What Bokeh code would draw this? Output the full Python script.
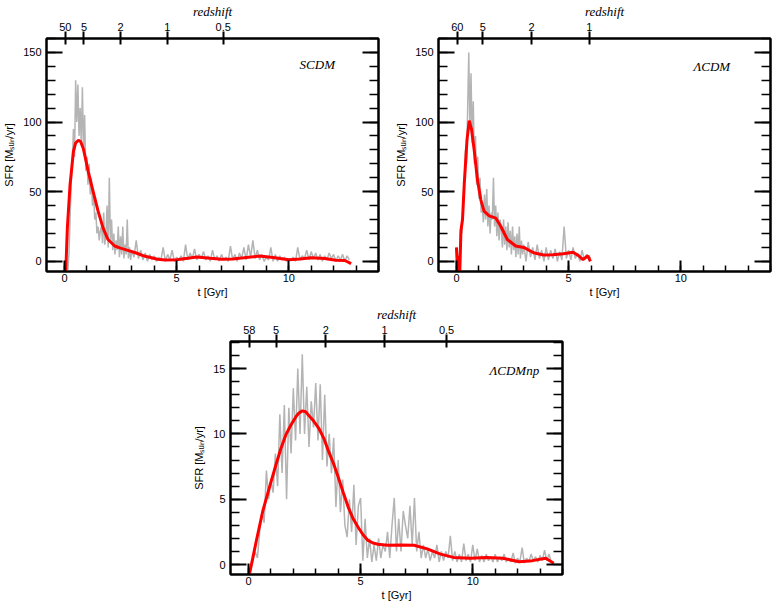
from bokeh.plotting import figure
from bokeh.models import (LinearAxis, FixedTicker, SingleIntervalTicker, Range1d, Spacer,
                          CustomLabelingPolicy)
from bokeh.layouts import column, row
from bokeh.embed import file_html
from bokeh.resources import INLINE
from bokeh.core.properties import value

# ---------------- data ----------------
# SCDM
scdm_gray_t = [0.15, 0.2, 0.25, 0.3, 0.35, 0.4, 0.45, 0.5, 0.55, 0.6, 0.65, 0.7, 0.75, 0.8, 0.85, 0.9, 0.95,
               1.0, 1.05, 1.1, 1.15, 1.2, 1.25, 1.3, 1.35, 1.4, 1.45, 1.5, 1.55, 1.6, 1.65, 1.7, 1.75, 1.8,
               1.85, 1.9, 1.95, 2.0, 2.05, 2.1, 2.15, 2.2, 2.25, 2.3, 2.35, 2.4, 2.45, 2.5, 2.55, 2.6, 2.65,
               2.7, 2.75, 2.8, 2.85, 2.9, 2.95, 3.0,
               3.1, 3.2, 3.3, 3.4, 3.5, 3.6, 3.7, 3.8, 3.9, 4.0, 4.1, 4.2, 4.3, 4.4, 4.5, 4.6, 4.7, 4.8, 4.9,
               5.0, 5.1, 5.2, 5.3, 5.4, 5.5, 5.6, 5.7, 5.8, 5.9, 6.0, 6.1, 6.2, 6.3, 6.4, 6.5, 6.6, 6.7, 6.8,
               6.9, 7.0, 7.1, 7.2, 7.3, 7.4, 7.5, 7.6, 7.7, 7.8, 7.9, 8.0, 8.1, 8.2, 8.3, 8.4, 8.5, 8.6, 8.7,
               8.8, 8.9, 9.0, 9.1, 9.2, 9.3, 9.4, 9.5, 9.6, 9.7, 9.8, 9.9, 10.0, 10.1, 10.2, 10.3, 10.4, 10.5,
               10.6, 10.7, 10.8, 10.9, 11.0, 11.1, 11.2, 11.3, 11.4, 11.5, 11.6, 11.7, 11.8, 11.9, 12.0, 12.1,
               12.2, 12.3, 12.4, 12.5, 12.6, 12.7]
scdm_gray_sfr = [-7, 5, 30, 55, 70, 95, 75, 130, 100, 127, 90, 110, 85, 125, 80, 105, 65,
                 75, 55, 70, 48, 60, 40, 50, 30, 35, 20, 25, 15, 22, 25, 13, 35, 12,
                 20, 40, 10, 60, 15, 30, 8, 20, 5, 15, 8, 25, 3, 18, 5, 25, 2,
                 12, 5, 30, 2, 10, 1, 8,
                 3, 15, 2, 8, 1, 6, 0, 5, 1, 4, 0, 3, 1, 10, 0, 5, 1, 8, 0,
                 3, 1, 4, 0, 12, 1, 6, 2, 9, 1, 5, 2, 7, 1, 4, 0, 8, 1, 4,
                 0, 5, 1, 3, 0, 11, 1, 5, 0, 6, 2, 10, 1, 12, 3, 15, 2, 8, 1,
                 5, 0, 3, 1, 10, 0, 5, 0, 4, 1, 3, 0, 2, 1, 3, 0, 10, 1,
                 4, 2, 8, 1, 7, 2, 6, 1, 5, 0, 4, 1, 6, 2, 5, 0,
                 4, 1, 5, 0, 4, 1]
scdm_fit_t = [0.06, 0.13, 0.2, 0.25, 0.3, 0.4, 0.5, 0.62, 0.72, 0.84, 0.95, 1.06, 1.28, 1.5, 1.72, 1.94,
              2.24, 2.5, 2.83, 3.2, 3.56, 4.15, 4.5, 5.0, 5.5, 5.9, 6.5, 7.0, 7.5, 8.0, 8.7, 9.3, 10.0,
              10.5, 11.0, 11.6, 12.1, 12.5, 12.78]
scdm_fit_sfr = [-7, 24, 42, 55, 63, 79, 85, 87, 86, 81, 73, 64.5, 50, 36, 24, 15.7,
                11, 9.5, 7.9, 6, 3.8, 1.5, 1, 1.2, 2.2, 3.1, 2.2, 1.5, 1.6, 2.5, 3.8, 2.8, 1.2,
                1.6, 2.6, 2, 0.8, 0.6, -1.6]
scdm_z_t = [0.04, 0.87, 2.5, 4.58, 7.08]
scdm_z_lab = ["50", "5", "2", "1", "0.5"]

# LambdaCDM
lcdm_gray_t = [0.0, 0.05, 0.1, 0.15, 0.2, 0.25, 0.3, 0.35, 0.4, 0.45, 0.5, 0.55, 0.6, 0.65, 0.7, 0.75, 0.8,
               0.85, 0.9, 0.95, 1.0, 1.05, 1.1, 1.15, 1.2, 1.25, 1.3, 1.35, 1.4, 1.45, 1.5, 1.55, 1.6, 1.65,
               1.7, 1.75, 1.8, 1.85, 1.9, 1.95, 2.0, 2.05, 2.1, 2.15, 2.2, 2.25, 2.3, 2.35, 2.4, 2.45, 2.5,
               2.55, 2.6, 2.65, 2.7, 2.75, 2.8, 2.85, 2.9, 2.95, 3.0,
               3.1, 3.2, 3.3, 3.4, 3.5, 3.6, 3.7, 3.8, 3.9, 4.0, 4.1, 4.2, 4.3, 4.4, 4.5, 4.6, 4.7, 4.8,
               4.9, 5.0, 5.1, 5.2, 5.3, 5.4, 5.5, 5.6, 5.7, 5.8, 5.9, 6.0]
lcdm_gray_sfr = [0, 5, -5, 10, 25, 20, 45, 55, 80, 70, 110, 150, 95, 135, 85, 115, 70,
                 90, 55, 75, 45, 60, 35, 40, 28, 48, 30, 52, 25, 40, 20, 35, 30, 60,
                 25, 40, 18, 35, 15, 30, 22, 10, 30, 12, 25, 8, 28, 10, 22, 5, 25,
                 8, 18, 3, 20, 5, 25, 2, 15, 5, 12,
                 0, 14, 3, 10, 1, 12, 2, 8, 0, 10, 1, 8, 2, 9, 0, 7, 1, 25,
                 2, 8, 1, 10, 2, 6, 0, 8, 1, 5, 2, 3]
lcdm_fit_t = [0.0, 0.05, 0.1, 0.15, 0.2, 0.27, 0.35, 0.47, 0.57, 0.67, 0.79, 0.94, 1.09, 1.23, 1.46, 1.76,
              1.98, 2.27, 2.64, 3.0, 3.44, 3.88, 4.3, 4.76, 5.2, 5.45, 5.64, 5.86, 5.97]
lcdm_fit_sfr = [10, -7, 4, -7, 22, 30, 56, 87, 101, 95, 80, 58, 44, 36, 32.7, 31,
                25, 15.7, 11, 10, 6.2, 4.5, 4.8, 5.5, 6.5, 4, 1.2, 4, 0]
lcdm_z_t = [0.04, 1.17, 3.35, 5.92]
lcdm_z_lab = ["60", "5", "2", "1"]

# LambdaCDMnp
np_gray_t = [0.1, 0.2, 0.3, 0.4, 0.5, 0.6, 0.7, 0.8, 0.9, 1.0, 1.1, 1.2, 1.3, 1.4, 1.5, 1.6, 1.7, 1.8, 1.9,
             2.0, 2.1, 2.2, 2.3, 2.4, 2.5, 2.6, 2.7, 2.8, 2.9, 3.0, 3.1, 3.2, 3.3, 3.4, 3.5, 3.6, 3.7, 3.8,
             3.9, 4.0, 4.1, 4.2, 4.3, 4.4, 4.5, 4.6, 4.7, 4.8, 4.9, 5.0, 5.1, 5.2, 5.3, 5.4, 5.5, 5.6, 5.7,
             5.8, 5.9, 6.0, 6.1, 6.2, 6.3, 6.4, 6.5, 6.6, 6.7, 6.8, 6.9, 7.0, 7.1, 7.2, 7.3, 7.4, 7.5, 7.6,
             7.7, 7.8, 7.9, 8.0, 8.1, 8.2, 8.3, 8.4, 8.5, 8.6, 8.7, 8.8, 8.9, 9.0, 9.1, 9.2, 9.3, 9.4, 9.5,
             9.6, 9.7, 9.8, 9.9, 10.0, 10.1, 10.2, 10.3, 10.4, 10.5, 10.6, 10.7, 10.8, 10.9, 11.0, 11.1,
             11.2, 11.3, 11.4, 11.5, 11.6, 11.7, 11.8, 11.9, 12.0, 12.1, 12.2, 12.3, 12.4, 12.5, 12.6,
             12.7, 12.8, 12.9, 13.0, 13.1, 13.2, 13.3, 13.4, 13.5, 13.6]
np_gray_sfr = [-0.5, 0.3, 1.0, 0.5, 2.5, 4.0, 3.2, 7.2, 5.0, 6.5, 5.5, 8.5, 6.0, 11.5, 7.0, 12.2, 5.0, 12.0, 8.5,
               13.5, 9.5, 15.0, 10.0, 16.1, 10.0, 13.6, 9.0, 12.5, 10.5, 13.9, 9.5, 13.8, 8.0, 13.0, 7.5, 10.0, 7.0, 9.7,
               4.4, 8.0, 4.0, 6.5, 3.0, 2.1, 5.0, 2.5, 6.1, 1.5, 4.5, 5.1, 0.3, 3.5, 0.5, 2.0, 0.2, 1.5, 0.3,
               2.0, 0.5, 1.5, 1.0, 2.5, 0.5, 3.0, 5.1, 1.0, 3.5, 1.0, 4.1, 3.0, 2.0, 4.5, 1.5, 5.1, 1.0, 2.5,
               0.5, 1.5, 0.5, 1.2, 0.3, 1.0, 0.5, 1.5, 0.2, 1.0, 0.3, 1.0, 0.5, 2.2, 0.3, 1.0, 0.2, 0.8, 0.2,
               1.6, 0.3, 0.8, 0.2, 1.5, 0.3, 1.2, 0.2, 0.7, 0.2, 0.8, 0.3, 0.6, 0.2, 0.8, 0.2,
               0.6, 0.3, 0.8, 0.2, 0.5, 0.2, 0.9, 0.1, 0.5, 0.2, 1.3, 0.1, 0.5, 0.2, 0.8,
               0.3, 0.6, 0.2, 0.7, 0.3, 1.1, 0.3, 0.8, 0.2, 0.1]
np_fit_t = [0.05, 0.35, 0.64, 0.95, 1.23, 1.45, 1.67, 1.9, 2.11, 2.25, 2.4, 2.55, 2.69, 2.9, 3.13, 3.35,
            3.57, 3.8, 4.01, 4.23, 4.45, 4.67, 4.89, 5.1, 5.33, 5.55, 5.77, 6.21, 6.8, 7.38, 7.97, 8.56,
            9.14, 9.88, 10.61, 11.34, 12.07, 12.66, 13.25, 13.61]
np_fit_sfr = [-0.68, 1.8, 4.1, 6.0, 7.66, 8.9, 9.94, 10.7, 11.3, 11.6, 11.76, 11.7, 11.4, 11.0, 10.45, 9.7,
              8.68, 7.7, 6.65, 5.5, 4.38, 3.5, 2.86, 2.3, 1.85, 1.65, 1.55, 1.48, 1.5, 1.48, 1.2, 0.8,
              0.55, 0.48, 0.55, 0.48, 0.22, 0.3, 0.48, 0.1]
np_z_t = [0.04, 1.23, 3.45, 6.07, 8.83]
np_z_lab = ["58", "5", "2", "1", "0.5"]

SANS = "Liberation Sans"
SERIF = "Liberation Serif"


def make_panel(gray_t, gray_v, fit_t, fit_v, z_t, z_lab, ylo, yhi, yint, name, name_x, name_y,
               mb_left, mb_right, mb_top, mb_bottom):
    p = figure(frame_width=332, frame_height=233,
               x_range=Range1d(-0.8, 14.0), y_range=Range1d(ylo, yhi),
               output_backend="svg", toolbar_location=None,
               min_border_left=mb_left, min_border_right=mb_right,
               min_border_top=mb_top, min_border_bottom=mb_bottom,
               background_fill_color="white", border_fill_color="white")
    p.grid.visible = False
    p.outline_line_color = "black"
    p.outline_line_width = 2

    # bottom axis
    xa = p.xaxis[0]
    xa.ticker = SingleIntervalTicker(interval=5, num_minor_ticks=5)
    xa.axis_label = "t [Gyr]"
    # left axis
    ya = p.yaxis[0]
    ya.ticker = SingleIntervalTicker(interval=yint, num_minor_ticks=5)
    ya.axis_label = "SFR [M\u209b\u1d64\u2099/yr]"

    ra = LinearAxis(ticker=SingleIntervalTicker(interval=yint, num_minor_ticks=5),
                    major_label_policy=CustomLabelingPolicy(code="return new Set()"))
    ta = LinearAxis(ticker=FixedTicker(ticks=z_t, minor_ticks=[]),
                    major_label_overrides={t: s for t, s in zip(z_t, z_lab)},
                    axis_label="redshift")
    p.add_layout(ra, "right")
    p.add_layout(ta, "above")

    for ax in (xa, ya, ra, ta):
        ax.axis_line_color = "black"
        ax.axis_line_width = 2
        ax.major_tick_line_color = "black"
        ax.major_tick_line_width = 2
        ax.minor_tick_line_color = "black"
        ax.minor_tick_line_width = 1.5
        ax.major_tick_out = 0
        ax.minor_tick_out = 0
        ax.major_label_text_font = SANS
        ax.major_label_text_color = "black"
        ax.major_label_text_font_size = "11px"
        ax.axis_label_text_font = SANS
        ax.axis_label_text_font_style = "normal"
        ax.axis_label_text_color = "black"
        ax.axis_label_text_font_size = "11px"
    ra.major_label_text_font_size = "0px"
    ra.major_label_standoff = 0

    xa.major_tick_in = 11
    xa.minor_tick_in = 6
    xa.major_label_standoff = 2
    xa.axis_label_standoff = 1
    for ax in (ya, ra):
        ax.major_tick_in = 16
        ax.minor_tick_in = 9
    ya.major_label_standoff = 5
    ya.axis_label_standoff = 5

    ta.major_tick_in = 6
    ta.major_tick_out = 7
    ta.minor_tick_in = 0
    ta.major_label_standoff = 1
    ta.axis_label_standoff = 1
    ta.axis_label_text_font = SERIF
    ta.axis_label_text_font_style = "italic"
    ta.axis_label_text_font_size = "13px"

    p.line(gray_t, gray_v, line_color="#b4b4b4", line_width=1.5)
    p.line(fit_t, fit_v, line_color="#ff0000", line_width=3)
    p.text(x=[name_x], y=[name_y], text=[name], text_font=value(SERIF),
           text_font_style="italic", text_font_size="13px",
           text_align="right", text_baseline="middle", text_color="black")
    return p


p1 = make_panel(scdm_gray_t, scdm_gray_sfr, scdm_fit_t, scdm_fit_sfr, scdm_z_t, scdm_z_lab,
                -7.3, 160, 50, "SCDM", 12.06, 141, 32, 14, 30, 26)
p2 = make_panel(lcdm_gray_t, lcdm_gray_sfr, lcdm_fit_t, lcdm_fit_sfr, lcdm_z_t, lcdm_z_lab,
                -7.3, 160, 50, "\u039bCDM", 12.2, 140, 44, 2, 30, 26)
p3 = make_panel(np_gray_t, np_gray_sfr, np_fit_t, np_fit_sfr, np_z_t, np_z_lab,
                -0.76, 17.07, 5, "\u039bCDMnp", 12.96, 14.87, 32, 14, 41, 26)

layout = column(row(p1, p2), row(Spacer(width=190, height=10), p3))

with open("out.html", "w") as f:
    f.write(file_html(layout, INLINE))
